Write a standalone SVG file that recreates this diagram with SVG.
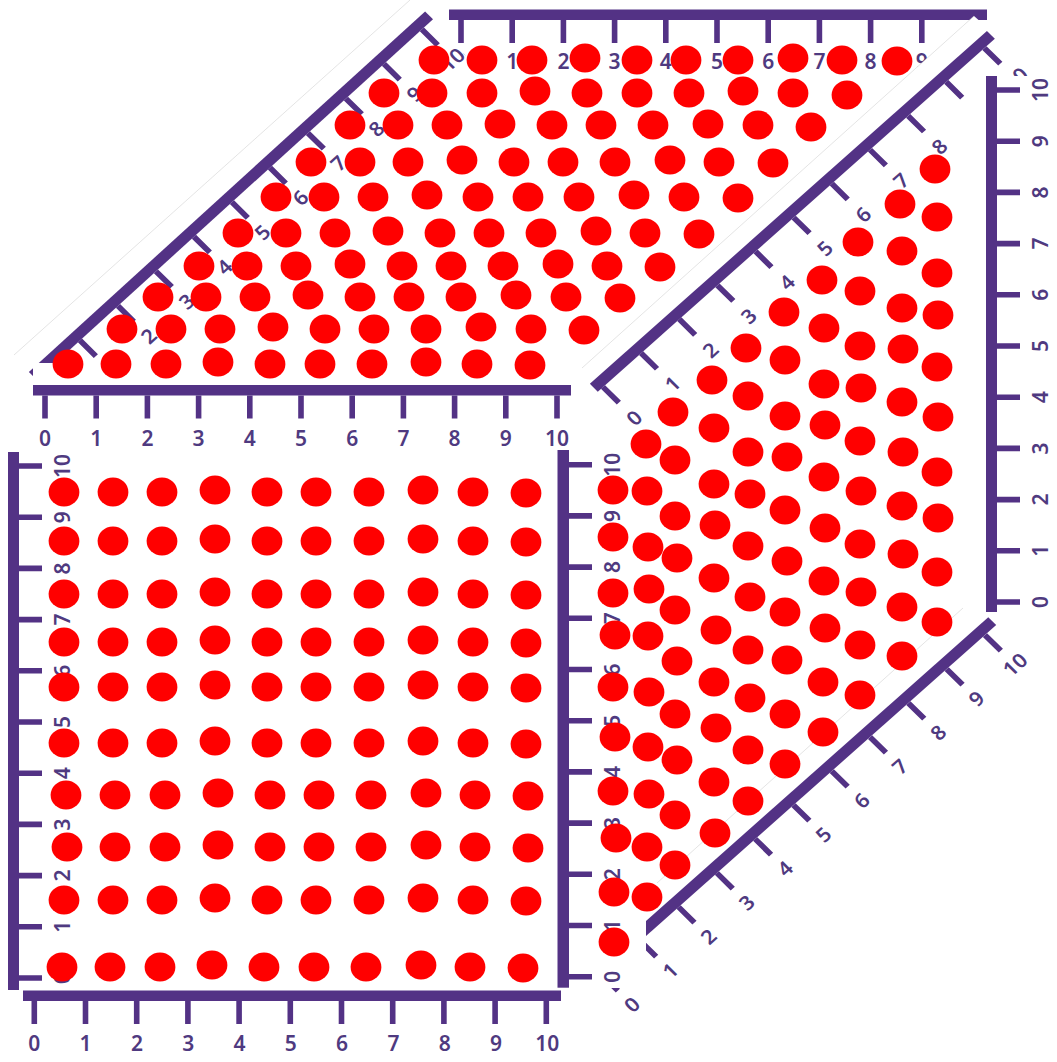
<svg xmlns="http://www.w3.org/2000/svg" width="1057" height="1062" viewBox="0 0 1057 1062">
<style>
.b{fill:#533285}
.t{fill:#533285}
.w{fill:#fff}
.e{stroke:#c8c8c8;stroke-width:.5;fill:none}
text{font-family:"Noto Sans","Open Sans","DejaVu Sans",sans-serif;font-size:21px;font-weight:600;fill:#4f3a80;text-anchor:middle}
.d{fill:#f00}
</style>
<defs>
<path id="ticks" d="M-2.8 0h5.6v23h-5.6zM48.4 0h5.6v23h-5.6zM99.6 0h5.6v23h-5.6zM150.8 0h5.6v23h-5.6zM202 0h5.6v23h-5.6zM253.2 0h5.6v23h-5.6zM304.4 0h5.6v23h-5.6zM355.6 0h5.6v23h-5.6zM406.8 0h5.6v23h-5.6zM458 0h5.6v23h-5.6zM509.2 0h5.6v23h-5.6z"/>
<ellipse id="dot" rx="15.4" ry="14.6"/>
</defs>
<g id="axis-top" transform="translate(461 20)">
<rect class="b" x="-12" y="-10.5" width="538" height="10.5"/><use href="#ticks" class="t"/>
<text y="49">0</text><text x="51.2" y="49">1</text><text x="102.4" y="49">2</text><text x="153.6" y="49">3</text><text x="204.8" y="49">4</text><text x="256" y="49">5</text><text x="307.2" y="49">6</text><text x="358.4" y="49">7</text><text x="409.6" y="49">8</text><text x="460.8" y="49">9</text><text x="512" y="49">10</text>
</g>
<g id="axis-diagonal-upper-left">
<polygon class="w" points="14,355 410,0 475,65 100,420"/>
<path class="e" d="M14 355L410 0"/>
<g transform="matrix(.742 -.675 .69 .68 42 375)">
<rect class="b" x="-7" y="-11.5" width="534" height="11.5"/><use href="#ticks" class="t"/>
<text y="52">0</text><text x="51.2" y="52">1</text><text x="102.4" y="52">2</text><text x="153.6" y="52">3</text><text x="204.8" y="52">4</text><text x="256" y="52">5</text><text x="307.2" y="52">6</text><text x="358.4" y="52">7</text><text x="409.6" y="52">8</text><text x="460.8" y="52">9</text><text x="512" y="52">10</text>
</g>
</g>
<g id="axis-middle">
<rect class="w" x="33" y="363" width="539" height="86"/>
<g transform="translate(45 395.5)">
<rect class="b" x="-12" y="-10.5" width="538" height="10.5"/><use href="#ticks" class="t"/>
<text y="50">0</text><text x="51.2" y="50">1</text><text x="102.4" y="50">2</text><text x="153.6" y="50">3</text><text x="204.8" y="50">4</text><text x="256" y="50">5</text><text x="307.2" y="50">6</text><text x="358.4" y="50">7</text><text x="409.6" y="50">8</text><text x="460.8" y="50">9</text><text x="512" y="50">10</text>
</g>
</g>
<g id="axis-diagonal-upper-right">
<polygon class="w" points="582,368 974,16 1040,75 640,440"/>
<path class="e" d="M582 368L974 16"/>
<g transform="matrix(.745 -.662 .69 .68 603 387)">
<rect class="b" x="-7" y="-11.5" width="533" height="11.5"/><use href="#ticks" class="t"/>
<text y="53">0</text><text x="51.2" y="53">1</text><text x="102.4" y="53">2</text><text x="153.6" y="53">3</text><text x="204.8" y="53">4</text><text x="256" y="53">5</text><text x="307.2" y="53">6</text><text x="358.4" y="53">7</text><text x="409.6" y="53">8</text><text x="460.8" y="53">9</text><text x="512" y="53">10</text>
</g>
</g>
<g id="axis-far-right">
<rect class="w" x="968" y="76" width="89" height="546"/>
<g transform="matrix(0 -1 1 0 997 602)">
<rect class="b" x="-10" y="-11" width="536" height="11"/><use href="#ticks" class="t"/>
<text y="51">0</text><text x="51.2" y="51">1</text><text x="102.4" y="51">2</text><text x="153.6" y="51">3</text><text x="204.8" y="51">4</text><text x="256" y="51">5</text><text x="307.2" y="51">6</text><text x="358.4" y="51">7</text><text x="409.6" y="51">8</text><text x="460.8" y="51">9</text><text x="512" y="51">10</text>
</g>
</g>
<g id="axis-diagonal-lower-right">
<path class="e" d="M963 608L657 883"/>
<g transform="matrix(.748 -.664 .69 .68 602 975)">
<rect class="b" x="-7" y="-11.5" width="534" height="11.5"/><use href="#ticks" class="t"/>
<text y="51">0</text><text x="51.2" y="51">1</text><text x="102.4" y="51">2</text><text x="153.6" y="51">3</text><text x="204.8" y="51">4</text><text x="256" y="51">5</text><text x="307.2" y="51">6</text><text x="358.4" y="51">7</text><text x="409.6" y="51">8</text><text x="460.8" y="51">9</text><text x="512" y="51">10</text>
</g>
</g>
<g id="axis-square-right">
<rect class="w" x="540" y="450" width="106" height="538"/>
<g transform="matrix(0 -1 1 0 569 976.7)">
<rect class="b" x="-11" y="-11.5" width="537.7" height="11.5"/><use href="#ticks" class="t"/>
<text y="51">0</text><text x="51.2" y="51">1</text><text x="102.4" y="51">2</text><text x="153.6" y="51">3</text><text x="204.8" y="51">4</text><text x="256" y="51">5</text><text x="307.2" y="51">6</text><text x="358.4" y="51">7</text><text x="409.6" y="51">8</text><text x="460.8" y="51">9</text><text x="512" y="51">10</text>
</g>
</g>
<g id="axis-square-left" transform="matrix(0 -1 1 0 19 978)">
<rect class="b" x="-12" y="-11" width="538" height="11"/><use href="#ticks" class="t"/>
<text y="51">0</text><text x="51.2" y="51">1</text><text x="102.4" y="51">2</text><text x="153.6" y="51">3</text><text x="204.8" y="51">4</text><text x="256" y="51">5</text><text x="307.2" y="51">6</text><text x="358.4" y="51">7</text><text x="409.6" y="51">8</text><text x="460.8" y="51">9</text><text x="512" y="51">10</text>
</g>
<g id="axis-bottom">
<rect class="w" x="23" y="990" width="538" height="72"/>
<g transform="translate(34.3 1001)">
<rect class="b" x="-11.3" y="-10.5" width="538" height="10.5"/><use href="#ticks" class="t"/>
<text y="50">0</text><text x="51.3" y="50">1</text><text x="102.6" y="50">2</text><text x="153.9" y="50">3</text><text x="205.2" y="50">4</text><text x="256.5" y="50">5</text><text x="307.8" y="50">6</text><text x="359.1" y="50">7</text><text x="410.4" y="50">8</text><text x="461.7" y="50">9</text><text x="513" y="50">10</text>
</g>
</g>
<g id="dots-top" class="d">
<use href="#dot" x="68" y="364"/><use href="#dot" x="116" y="364"/><use href="#dot" x="166" y="364"/><use href="#dot" x="218" y="362"/><use href="#dot" x="270" y="364"/><use href="#dot" x="320" y="364"/><use href="#dot" x="372" y="364"/><use href="#dot" x="426" y="362"/><use href="#dot" x="477" y="364"/><use href="#dot" x="530" y="365"/>
<use href="#dot" x="122" y="329"/><use href="#dot" x="171" y="329"/><use href="#dot" x="220" y="329"/><use href="#dot" x="273" y="327"/><use href="#dot" x="325" y="329"/><use href="#dot" x="374" y="329"/><use href="#dot" x="426" y="329"/><use href="#dot" x="481" y="327"/><use href="#dot" x="531" y="329"/><use href="#dot" x="584" y="330"/>
<use href="#dot" x="158" y="297"/><use href="#dot" x="206" y="297"/><use href="#dot" x="255" y="297"/><use href="#dot" x="308" y="295"/><use href="#dot" x="360" y="297"/><use href="#dot" x="409" y="297"/><use href="#dot" x="461" y="297"/><use href="#dot" x="516" y="295"/><use href="#dot" x="566" y="297"/><use href="#dot" x="620" y="298"/>
<use href="#dot" x="199" y="266"/><use href="#dot" x="247" y="266"/><use href="#dot" x="296" y="266"/><use href="#dot" x="350" y="264"/><use href="#dot" x="402" y="266"/><use href="#dot" x="451" y="266"/><use href="#dot" x="503" y="266"/><use href="#dot" x="558" y="264"/><use href="#dot" x="607" y="266"/><use href="#dot" x="660" y="267"/>
<use href="#dot" x="238" y="233"/><use href="#dot" x="286" y="233"/><use href="#dot" x="335" y="233"/><use href="#dot" x="388" y="231"/><use href="#dot" x="440" y="233"/><use href="#dot" x="489" y="233"/><use href="#dot" x="541" y="233"/><use href="#dot" x="596" y="231"/><use href="#dot" x="645" y="233"/><use href="#dot" x="699" y="234"/>
<use href="#dot" x="276" y="197"/><use href="#dot" x="324" y="197"/><use href="#dot" x="373" y="197"/><use href="#dot" x="427" y="195"/><use href="#dot" x="478" y="197"/><use href="#dot" x="528" y="197"/><use href="#dot" x="579" y="197"/><use href="#dot" x="634" y="195"/><use href="#dot" x="684" y="197"/><use href="#dot" x="738" y="198"/>
<use href="#dot" x="311" y="162"/><use href="#dot" x="360" y="162"/><use href="#dot" x="408" y="162"/><use href="#dot" x="462" y="160"/><use href="#dot" x="514" y="162"/><use href="#dot" x="563" y="162"/><use href="#dot" x="615" y="162"/><use href="#dot" x="670" y="160"/><use href="#dot" x="719" y="162"/><use href="#dot" x="773" y="163"/>
<use href="#dot" x="350" y="125"/><use href="#dot" x="398" y="125"/><use href="#dot" x="447" y="125"/><use href="#dot" x="500" y="124"/><use href="#dot" x="552" y="125"/><use href="#dot" x="601" y="125"/><use href="#dot" x="653" y="125"/><use href="#dot" x="708" y="124"/><use href="#dot" x="758" y="125"/><use href="#dot" x="811" y="127"/>
<use href="#dot" x="384" y="93"/><use href="#dot" x="432" y="93"/><use href="#dot" x="482" y="93"/><use href="#dot" x="535" y="91"/><use href="#dot" x="587" y="93"/><use href="#dot" x="637" y="93"/><use href="#dot" x="689" y="93"/><use href="#dot" x="743" y="91"/><use href="#dot" x="793" y="93"/><use href="#dot" x="847" y="95"/>
<use href="#dot" x="434" y="60"/><use href="#dot" x="482" y="60"/><use href="#dot" x="532" y="60"/><use href="#dot" x="585" y="58"/><use href="#dot" x="637" y="60"/><use href="#dot" x="686" y="60"/><use href="#dot" x="738" y="60"/><use href="#dot" x="793" y="58"/><use href="#dot" x="842" y="60"/><use href="#dot" x="897" y="61"/>
</g>
<g id="dots-square" class="d">
<use href="#dot" x="64" y="492"/><use href="#dot" x="113" y="492"/><use href="#dot" x="162" y="492"/><use href="#dot" x="215" y="490"/><use href="#dot" x="267" y="492"/><use href="#dot" x="316" y="492"/><use href="#dot" x="369" y="492"/><use href="#dot" x="423" y="490"/><use href="#dot" x="473" y="492"/><use href="#dot" x="526" y="493"/>
<use href="#dot" x="64" y="541"/><use href="#dot" x="113" y="541"/><use href="#dot" x="162" y="541"/><use href="#dot" x="215" y="539"/><use href="#dot" x="267" y="541"/><use href="#dot" x="316" y="541"/><use href="#dot" x="369" y="541"/><use href="#dot" x="423" y="539"/><use href="#dot" x="473" y="541"/><use href="#dot" x="526" y="542"/>
<use href="#dot" x="64" y="594"/><use href="#dot" x="113" y="594"/><use href="#dot" x="162" y="594"/><use href="#dot" x="215" y="592"/><use href="#dot" x="267" y="594"/><use href="#dot" x="316" y="594"/><use href="#dot" x="369" y="594"/><use href="#dot" x="423" y="592"/><use href="#dot" x="473" y="594"/><use href="#dot" x="526" y="595"/>
<use href="#dot" x="64" y="642"/><use href="#dot" x="113" y="642"/><use href="#dot" x="162" y="642"/><use href="#dot" x="215" y="640"/><use href="#dot" x="267" y="642"/><use href="#dot" x="316" y="642"/><use href="#dot" x="369" y="642"/><use href="#dot" x="423" y="640"/><use href="#dot" x="473" y="642"/><use href="#dot" x="526" y="643"/>
<use href="#dot" x="64" y="687"/><use href="#dot" x="113" y="687"/><use href="#dot" x="162" y="687"/><use href="#dot" x="215" y="685"/><use href="#dot" x="267" y="687"/><use href="#dot" x="316" y="687"/><use href="#dot" x="369" y="687"/><use href="#dot" x="423" y="685"/><use href="#dot" x="473" y="687"/><use href="#dot" x="526" y="688"/>
<use href="#dot" x="64" y="743"/><use href="#dot" x="113" y="743"/><use href="#dot" x="162" y="743"/><use href="#dot" x="215" y="741"/><use href="#dot" x="267" y="743"/><use href="#dot" x="316" y="743"/><use href="#dot" x="369" y="743"/><use href="#dot" x="423" y="741"/><use href="#dot" x="473" y="743"/><use href="#dot" x="526" y="744"/>
<use href="#dot" x="66" y="795"/><use href="#dot" x="115" y="795"/><use href="#dot" x="165" y="795"/><use href="#dot" x="218" y="793"/><use href="#dot" x="270" y="795"/><use href="#dot" x="319" y="795"/><use href="#dot" x="371" y="795"/><use href="#dot" x="426" y="793"/><use href="#dot" x="475" y="795"/><use href="#dot" x="528" y="796"/>
<use href="#dot" x="67" y="847"/><use href="#dot" x="115" y="847"/><use href="#dot" x="165" y="847"/><use href="#dot" x="218" y="845"/><use href="#dot" x="270" y="847"/><use href="#dot" x="319" y="847"/><use href="#dot" x="371" y="847"/><use href="#dot" x="426" y="845"/><use href="#dot" x="475" y="847"/><use href="#dot" x="528" y="848"/>
<use href="#dot" x="64" y="900"/><use href="#dot" x="113" y="900"/><use href="#dot" x="162" y="900"/><use href="#dot" x="215" y="898"/><use href="#dot" x="267" y="900"/><use href="#dot" x="316" y="900"/><use href="#dot" x="369" y="900"/><use href="#dot" x="423" y="898"/><use href="#dot" x="473" y="900"/><use href="#dot" x="526" y="901"/>
<use href="#dot" x="62" y="967"/><use href="#dot" x="110" y="967"/><use href="#dot" x="160" y="967"/><use href="#dot" x="212" y="965"/><use href="#dot" x="264" y="967"/><use href="#dot" x="314" y="967"/><use href="#dot" x="366" y="967"/><use href="#dot" x="421" y="965"/><use href="#dot" x="470" y="967"/><use href="#dot" x="523" y="968"/>
</g>
<g id="dots-right" class="d">
<use href="#dot" x="613" y="490"/><use href="#dot" x="613" y="537"/><use href="#dot" x="613" y="593"/><use href="#dot" x="615" y="635"/><use href="#dot" x="613" y="687"/><use href="#dot" x="615" y="737"/><use href="#dot" x="613" y="791"/><use href="#dot" x="616" y="838"/><use href="#dot" x="614" y="892"/><use href="#dot" x="614" y="942"/>
<use href="#dot" x="646" y="444"/><use href="#dot" x="647" y="491"/><use href="#dot" x="648" y="547"/><use href="#dot" x="649" y="589"/><use href="#dot" x="648" y="636"/><use href="#dot" x="649" y="692"/><use href="#dot" x="648" y="747"/><use href="#dot" x="649" y="794"/><use href="#dot" x="647" y="847"/><use href="#dot" x="647" y="897"/>
<use href="#dot" x="673" y="412"/><use href="#dot" x="675" y="460"/><use href="#dot" x="675" y="516"/><use href="#dot" x="677" y="558"/><use href="#dot" x="675" y="610"/><use href="#dot" x="677" y="661"/><use href="#dot" x="675" y="714"/><use href="#dot" x="677" y="760"/><use href="#dot" x="675" y="815"/><use href="#dot" x="675" y="865"/>
<use href="#dot" x="712" y="380"/><use href="#dot" x="714" y="428"/><use href="#dot" x="714" y="484"/><use href="#dot" x="715" y="525"/><use href="#dot" x="714" y="578"/><use href="#dot" x="716" y="630"/><use href="#dot" x="714" y="682"/><use href="#dot" x="716" y="728"/><use href="#dot" x="714" y="782"/><use href="#dot" x="715" y="833"/>
<use href="#dot" x="746" y="348"/><use href="#dot" x="748" y="396"/><use href="#dot" x="748" y="452"/><use href="#dot" x="750" y="494"/><use href="#dot" x="748" y="546"/><use href="#dot" x="750" y="597"/><use href="#dot" x="748" y="650"/><use href="#dot" x="750" y="698"/><use href="#dot" x="748" y="750"/><use href="#dot" x="748" y="801"/>
<use href="#dot" x="784" y="312"/><use href="#dot" x="785" y="360"/><use href="#dot" x="785" y="416"/><use href="#dot" x="787" y="457"/><use href="#dot" x="785" y="510"/><use href="#dot" x="787" y="561"/><use href="#dot" x="785" y="612"/><use href="#dot" x="787" y="660"/><use href="#dot" x="785" y="714"/><use href="#dot" x="785" y="764"/>
<use href="#dot" x="822" y="280"/><use href="#dot" x="824" y="328"/><use href="#dot" x="824" y="384"/><use href="#dot" x="825" y="425"/><use href="#dot" x="824" y="477"/><use href="#dot" x="825" y="528"/><use href="#dot" x="824" y="581"/><use href="#dot" x="825" y="628"/><use href="#dot" x="823" y="682"/><use href="#dot" x="823" y="732"/>
<use href="#dot" x="858" y="242"/><use href="#dot" x="860" y="291"/><use href="#dot" x="860" y="346"/><use href="#dot" x="861" y="388"/><use href="#dot" x="860" y="441"/><use href="#dot" x="861" y="491"/><use href="#dot" x="860" y="544"/><use href="#dot" x="861" y="592"/><use href="#dot" x="860" y="645"/><use href="#dot" x="860" y="695"/>
<use href="#dot" x="900" y="204"/><use href="#dot" x="902" y="251"/><use href="#dot" x="902" y="308"/><use href="#dot" x="903" y="349"/><use href="#dot" x="902" y="402"/><use href="#dot" x="903" y="452"/><use href="#dot" x="902" y="506"/><use href="#dot" x="903" y="554"/><use href="#dot" x="902" y="607"/><use href="#dot" x="902" y="656"/>
<use href="#dot" x="935" y="169"/><use href="#dot" x="937" y="217"/><use href="#dot" x="937" y="273"/><use href="#dot" x="938" y="315"/><use href="#dot" x="937" y="367"/><use href="#dot" x="938" y="417"/><use href="#dot" x="937" y="472"/><use href="#dot" x="938" y="518"/><use href="#dot" x="937" y="572"/><use href="#dot" x="937" y="622"/>
</g>
</svg>
